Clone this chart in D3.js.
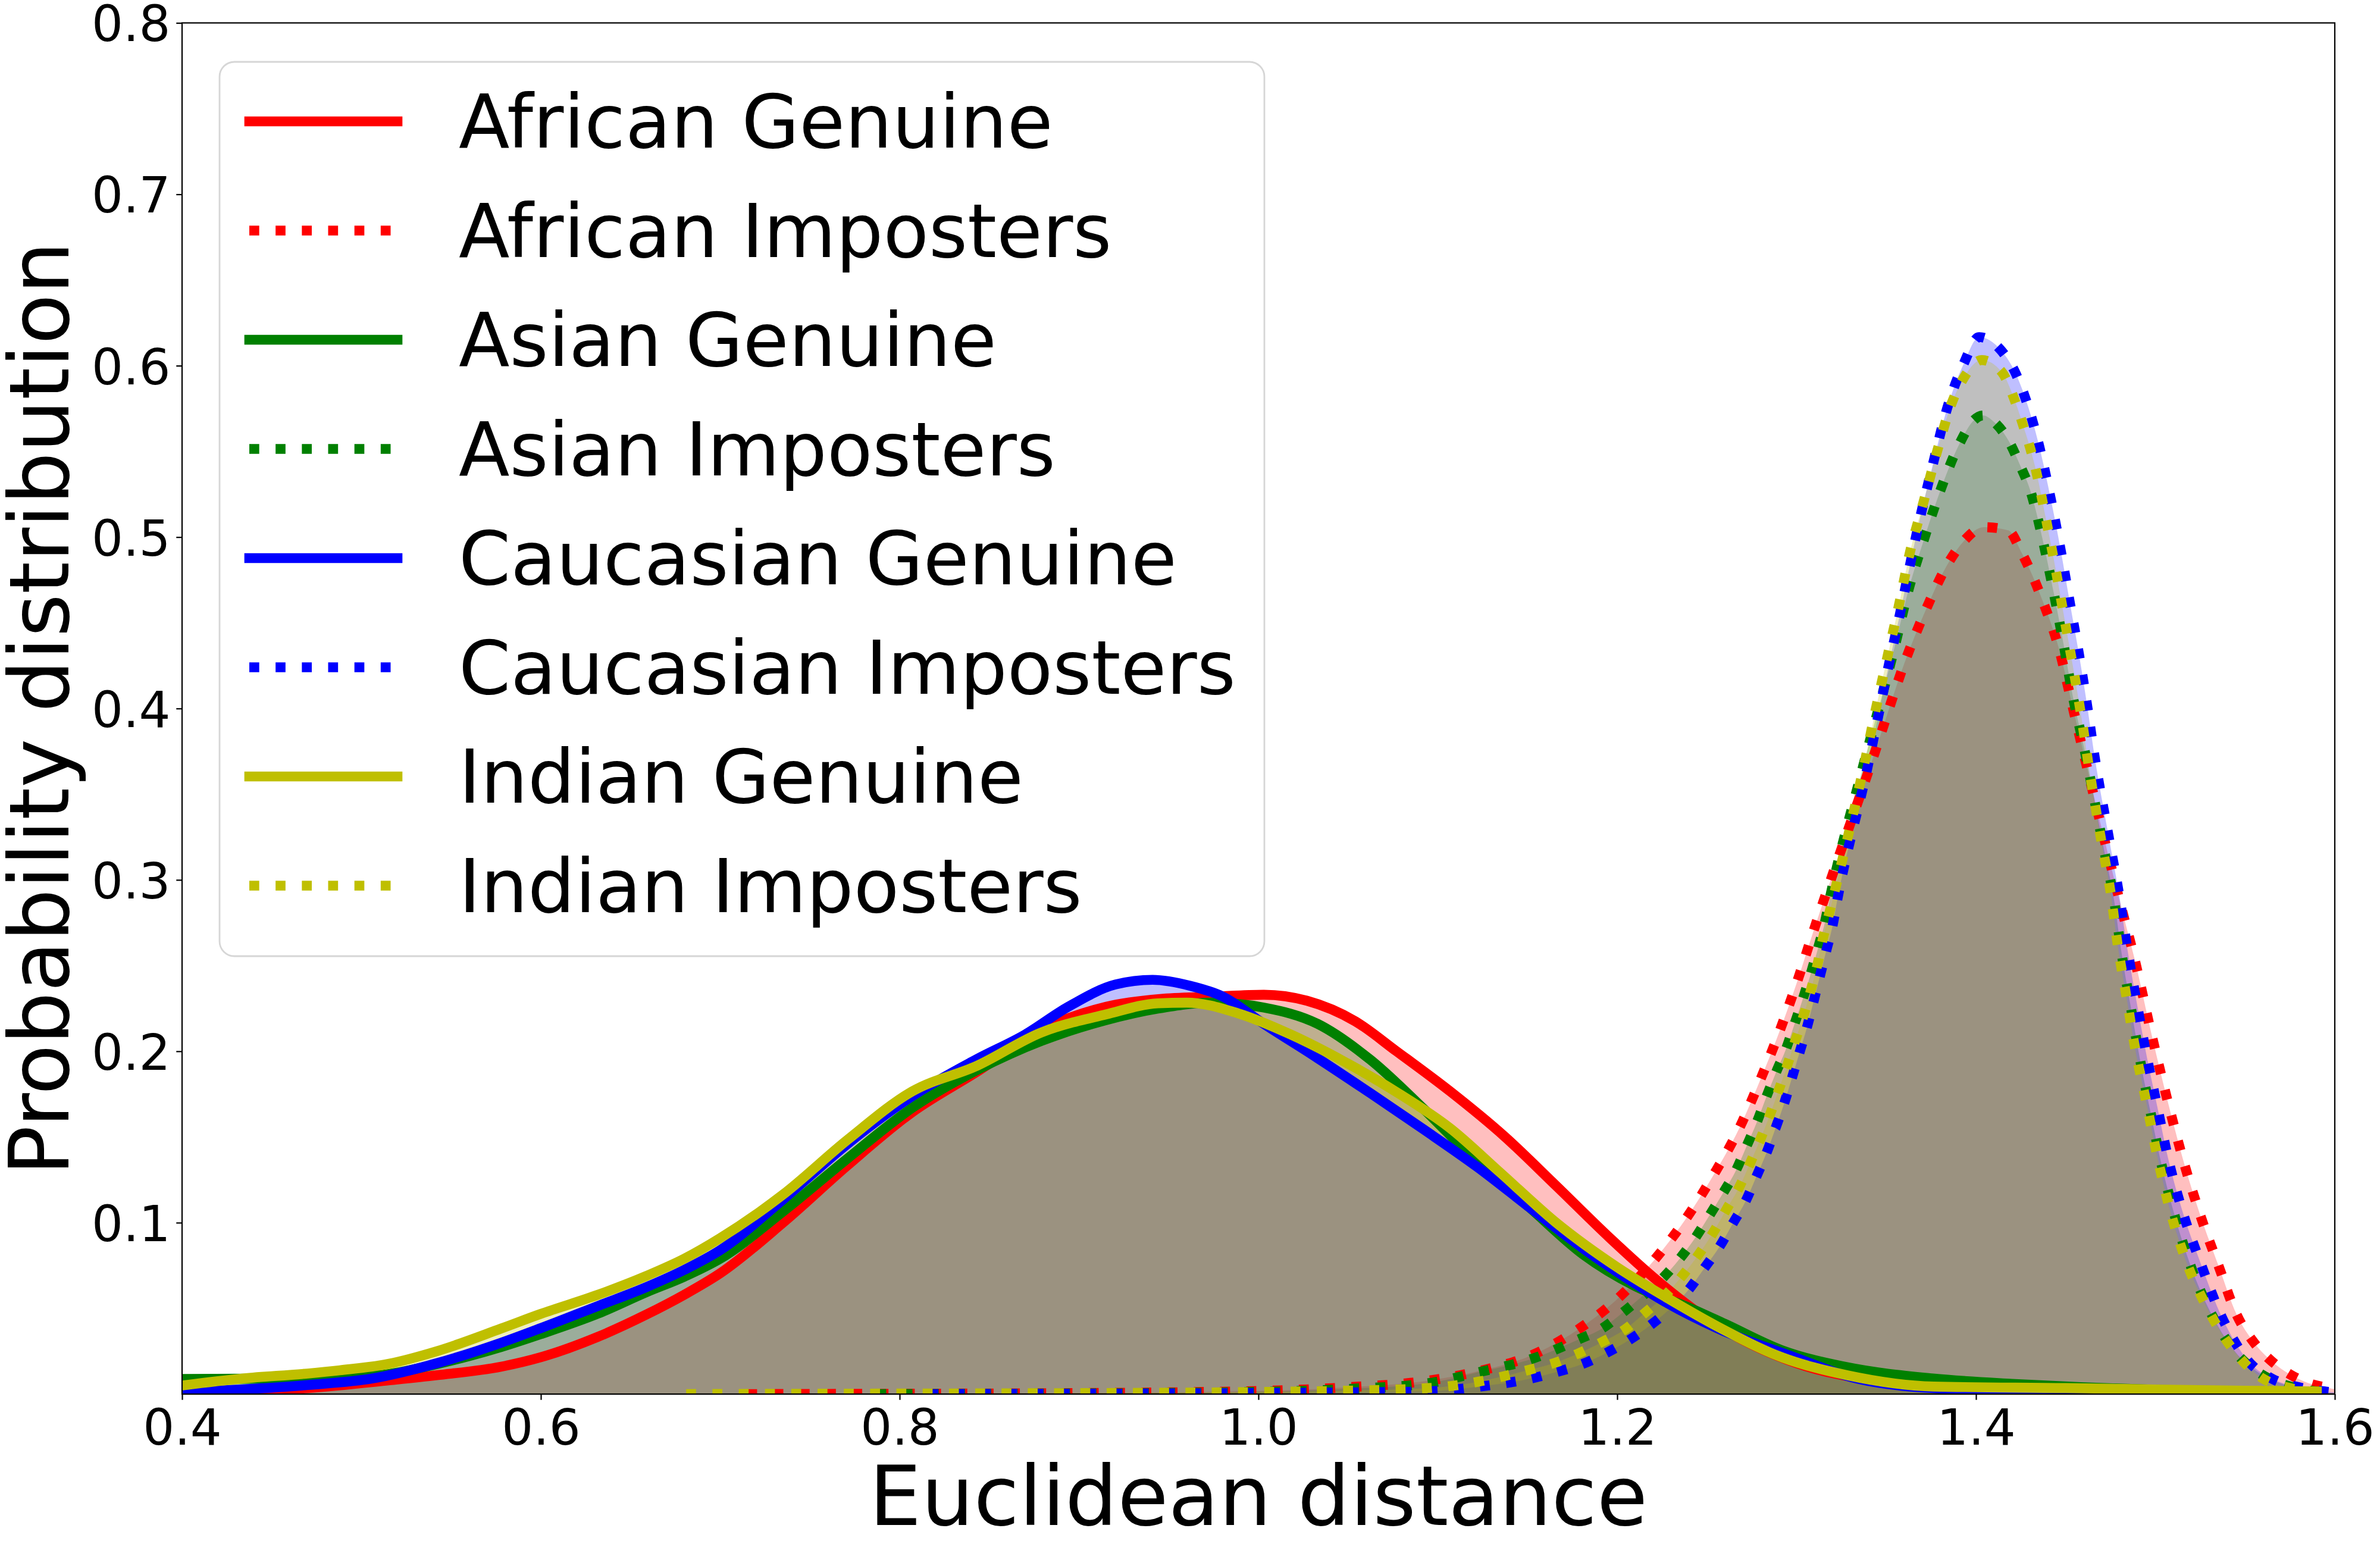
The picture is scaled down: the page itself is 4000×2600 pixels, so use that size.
<!DOCTYPE html>
<html><head><meta charset="utf-8">
<script src="https://cdnjs.cloudflare.com/ajax/libs/d3/7.8.5/d3.min.js"></script>
<style>
html,body{margin:0;padding:0;background:#fff;}
svg{display:block;font-family:"DejaVu Sans",sans-serif;}
</style></head><body>
<svg id="chart" width="4000" height="2600"></svg>
<script>
// ---------- data ----------
const seriesNames = ["African Genuine","African Imposters","Asian Genuine","Asian Imposters",
                     "Caucasian Genuine","Caucasian Imposters","Indian Genuine","Indian Imposters"];
const seriesColors = ["#ff0000","#ff0000","#008000","#008000","#0000ff","#0000ff","#bfbf00","#bfbf00"];
const seriesDotted = [false,true,false,true,false,true,false,true];
const xTicks = [0.4,0.6,0.8,1.0,1.2,1.4,1.6];
const yTicks = [0.1,0.2,0.3,0.4,0.5,0.6,0.7,0.8];

const africanGenuineX = [0.40,0.47,0.515,0.542,0.578,0.60,0.632,0.659,0.68,0.70,0.735,0.771,0.807,0.843,0.88,0.915,0.945,0.974,1.003,1.027,1.054,1.077,1.107,1.137,1.166,1.196,1.222,1.25,1.30,1.35,1.40,1.45,1.50,1.56];
const africanGenuineY = [0.0003,0.0035,0.0080,0.0110,0.0160,0.0215,0.0335,0.0465,0.0580,0.0705,0.1000,0.1335,0.1645,0.1880,0.2130,0.2260,0.2305,0.2318,0.2330,0.2295,0.2175,0.2000,0.1765,0.1505,0.1215,0.0910,0.0665,0.0440,0.0180,0.0070,0.0030,0.0015,0.0007,0.0003];

const africanImpX = [0.715,0.80,0.90,1.00,1.05,1.0945,1.1233,1.152,1.1772,1.2006,1.2203,1.2383,1.2536,1.268,1.2797,1.2904,1.3003,1.3093,1.3138,1.3426,1.3612,1.3722,1.3849,1.3933,1.4043,1.4179,1.4255,1.4373,1.4467,1.4534,1.4602,1.4808,1.4884,1.4979,1.5084,1.516,1.5245,1.5355,1.545,1.555,1.565,1.575,1.585,1.597,1.61];
const africanImpY = [0,0.0002,0.0006,0.0018,0.004,0.0078,0.0135,0.0225,0.037,0.056,0.0778,0.1023,0.1277,0.155,0.1832,0.2114,0.2406,0.2698,0.2839,0.3712,0.4296,0.458,0.4855,0.4978,0.5058,0.504,0.4908,0.4624,0.4332,0.4031,0.373,0.2848,0.2539,0.2097,0.1645,0.1347,0.106,0.074,0.047,0.030,0.019,0.0115,0.0065,0.0035,0.001];

const asianGenuineX = [0.40,0.436,0.47,0.51,0.542,0.578,0.60,0.632,0.659,0.68,0.70,0.735,0.771,0.807,0.843,0.879,0.9145,0.944,0.974,1.003,1.033,1.0625,1.092,1.12,1.151,1.181,1.21,1.24,1.26,1.292,1.328,1.376,1.42,1.46,1.50,1.56];
const asianGenuineY = [0.0088,0.0090,0.0092,0.011,0.0175,0.0275,0.0350,0.0470,0.0595,0.0685,0.0790,0.1065,0.1375,0.1670,0.1890,0.2060,0.2180,0.2249,0.2284,0.2255,0.2160,0.1950,0.1665,0.1375,0.1090,0.0815,0.0630,0.0505,0.0410,0.0255,0.0157,0.0091,0.006,0.004,0.0025,0.0012];

const asianImpX = [0.787,0.85,0.90,1.00,1.05,1.0945,1.1233,1.152,1.1781,1.1916,1.2033,1.214,1.2252,1.2347,1.2434,1.2514,1.259,1.2662,1.2721,1.2779,1.2833,1.2886,1.294,1.2989,1.3034,1.3079,1.312,1.3156,1.3187,1.337,1.3553,1.362,1.3705,1.3798,1.3908,1.3984,1.404,1.4094,1.4184,1.4247,1.4302,1.4373,1.4433,1.4488,1.4539,1.4602,1.4713,1.477,1.4812,1.4861,1.4913,1.497,1.5032,1.5108,1.5203,1.5321,1.545,1.56,1.575,1.59,1.60];
const asianImpY = [0,0.0002,0.0004,0.0013,0.003,0.0063,0.0129,0.0204,0.0317,0.0383,0.0477,0.0571,0.0675,0.0788,0.091,0.1042,0.1173,0.1305,0.1446,0.1588,0.1738,0.1879,0.2011,0.2161,0.2303,0.2453,0.2604,0.2745,0.2901,0.366,0.4385,0.4677,0.497,0.5262,0.5545,0.5678,0.571,0.5678,0.5558,0.5416,0.5274,0.4979,0.4677,0.4376,0.4075,0.3774,0.318,0.288,0.257,0.227,0.196,0.166,0.135,0.104,0.073,0.045,0.024,0.011,0.0045,0.0015,0.0005];

const caucasianGenuineX = [0.40,0.47,0.506,0.542,0.578,0.60,0.632,0.659,0.68,0.70,0.735,0.771,0.807,0.843,0.87,0.8937,0.9204,0.941,0.962,0.98,1.003,1.033,1.0625,1.092,1.122,1.151,1.181,1.21,1.228,1.256,1.30,1.33,1.376,1.45,1.50,1.56];
const caucasianGenuineY = [0.001,0.0053,0.0091,0.0180,0.030,0.0385,0.0515,0.0625,0.0725,0.0840,0.1135,0.1460,0.1738,0.1954,0.2098,0.2258,0.2390,0.2417,0.2382,0.2320,0.2160,0.1960,0.1755,0.1545,0.1325,0.1090,0.0850,0.0645,0.0530,0.0383,0.0210,0.0100,0.0035,0.0015,0.0008,0.0004];

const caucasianImpX = [0.816,0.90,1.00,1.05,1.0945,1.1233,1.152,1.1664,1.1808,1.1943,1.2069,1.2185,1.2293,1.2401,1.2487,1.2572,1.2644,1.2716,1.2775,1.2833,1.2883,1.2931,1.2973,1.3016,1.3057,1.3093,1.3129,1.3165,1.3201,1.3228,1.3392,1.3451,1.351,1.3573,1.3632,1.3693,1.3761,1.3832,1.3933,1.4017,1.414,1.4218,1.4272,1.4353,1.4416,1.4472,1.4522,1.4573,1.4619,1.4661,1.474,1.48,1.4845,1.4895,1.495,1.501,1.507,1.515,1.525,1.537,1.552,1.565,1.58,1.595,1.605];
const caucasianImpY = [0,0.0002,0.0006,0.001,0.0016,0.0044,0.0091,0.0129,0.0176,0.0242,0.0317,0.0402,0.0496,0.0613,0.0737,0.0863,0.0995,0.1126,0.1267,0.1409,0.1553,0.1697,0.1841,0.1992,0.2137,0.2284,0.2434,0.2585,0.2735,0.289,0.3641,0.3934,0.4235,0.4536,0.4837,0.5134,0.543,0.5726,0.6015,0.6167,0.6089,0.5962,0.582,0.5528,0.5227,0.4925,0.4624,0.4323,0.4022,0.3721,0.325,0.29,0.259,0.229,0.198,0.168,0.138,0.107,0.077,0.045,0.019,0.009,0.004,0.0015,0.0005];

const indianGenuineX = [0.40,0.434,0.47,0.488,0.515,0.542,0.578,0.60,0.632,0.659,0.68,0.70,0.735,0.771,0.807,0.843,0.879,0.915,0.944,0.96,0.9885,1.018,1.048,1.077,1.107,1.135,1.166,1.20,1.2293,1.2563,1.2922,1.3282,1.3764,1.45,1.50,1.55,1.59];
const indianGenuineY = [0.005,0.0091,0.012,0.0139,0.0176,0.025,0.0383,0.0468,0.058,0.069,0.079,0.091,0.1164,0.1484,0.1766,0.1915,0.211,0.2215,0.228,0.2284,0.2222,0.2098,0.1939,0.1762,0.155,0.129,0.100,0.074,0.0552,0.0392,0.0213,0.011,0.0044,0.0035,0.0027,0.002,0.0015];

const indianImpX = [0.681,0.75,0.85,0.95,1.00,1.05,1.0945,1.108,1.1224,1.1367,1.1511,1.1646,1.1781,1.1916,1.2045,1.2158,1.2272,1.2365,1.2455,1.2536,1.2608,1.268,1.2739,1.2797,1.2851,1.2901,1.2949,1.2994,1.304,1.3081,1.3117,1.3147,1.3183,1.3383,1.3443,1.3507,1.357,1.3629,1.3705,1.3781,1.3866,1.393,1.4032,1.4145,1.4208,1.4255,1.4336,1.4394,1.4449,1.45,1.4551,1.4598,1.4619,1.47,1.475,1.479,1.484,1.489,1.495,1.501,1.508,1.517,1.529,1.544,1.56,1.575,1.59,1.60];
const indianImpY = [0,0.0002,0.0004,0.0008,0.0012,0.002,0.0035,0.0048,0.0072,0.0104,0.0142,0.018,0.0236,0.0304,0.0379,0.0477,0.0581,0.0693,0.0816,0.0944,0.1076,0.1207,0.1343,0.1484,0.1629,0.1776,0.1922,0.2067,0.2212,0.2363,0.251,0.266,0.281,0.3703,0.4004,0.4305,0.4601,0.4899,0.5195,0.5492,0.5785,0.5926,0.6033,0.5962,0.582,0.5678,0.5382,0.5085,0.4784,0.4483,0.4181,0.388,0.373,0.322,0.293,0.262,0.231,0.200,0.170,0.139,0.108,0.078,0.050,0.025,0.009,0.0035,0.0012,0.0004];

// ---------- assemble ----------
const seriesX = [africanGenuineX, africanImpX, asianGenuineX, asianImpX, caucasianGenuineX, caucasianImpX, indianGenuineX, indianImpX];
const seriesY = [africanGenuineY, africanImpY, asianGenuineY, asianImpY, caucasianGenuineY, caucasianImpY, indianGenuineY, indianImpY];
const series = seriesNames.map((name, i) => ({
  name, color: seriesColors[i], dotted: seriesDotted[i],
  points: seriesX[i].map((xv, j) => [xv, seriesY[i][j]])
}));

// ---------- layout ----------
const PT = 200/72;            // px per point
const LW = 6 * PT;             // curve line width
const plotL = 306, plotR = 3924, plotT = 38.5, plotB = 2343;
const svg = d3.select("#chart");
const x = d3.scaleLinear().domain([0.4, 1.6]).range([plotL, plotR]);
const y = d3.scaleLinear().domain([0, 0.8]).range([plotB, plotT]);

svg.append("rect").attr("width", 4000).attr("height", 2600).attr("fill", "#fff");

svg.append("defs").append("clipPath").attr("id", "plotclip")
  .append("rect").attr("x", plotL).attr("y", plotT).attr("width", plotR - plotL).attr("height", plotB - plotT);

const plot = svg.append("g").attr("clip-path", "url(#plotclip)");

const area = d3.area().x(d => x(d[0])).y0(y(0)).y1(d => y(d[1])).curve(d3.curveMonotoneX);
const line = d3.line().x(d => x(d[0])).y(d => y(d[1])).curve(d3.curveMonotoneX);

// fills first (zorder 1), in plot order
series.forEach(s => {
  plot.append("path").attr("d", area(s.points))
    .attr("fill", s.color).attr("fill-opacity", 0.25).attr("stroke", "none");
});
// lines on top
series.forEach(s => {
  const p = plot.append("path").attr("d", line(s.points))
    .attr("fill", "none").attr("stroke", s.color).attr("stroke-width", LW)
    .attr("stroke-linejoin", "round");
  if (s.dotted) p.attr("stroke-dasharray", `${LW},${1.65 * LW}`).attr("stroke-linecap", "butt");
  else p.attr("stroke-linecap", "square");
});

// ---------- axes ----------
const tickLen = 3.5 * PT, tickPad = 3.5 * PT, tickFont = 30 * PT;
const fmt = d3.format(".1f");

const gx = svg.append("g").attr("transform", `translate(0,${plotB})`)
  .call(d3.axisBottom(x).tickValues(xTicks).tickFormat(fmt).tickSize(tickLen).tickPadding(tickPad));
gx.select(".domain").remove();
gx.selectAll(".tick line").attr("stroke", "#000").attr("stroke-width", 0.8 * PT);
gx.selectAll(".tick text").attr("font-size", tickFont).attr("font-family", "DejaVu Sans")
  .attr("fill", "#000").attr("y", 85).attr("dy", 0);

const gy = svg.append("g").attr("transform", `translate(${plotL},0)`)
  .call(d3.axisLeft(y).tickValues(yTicks).tickFormat(fmt).tickSize(tickLen).tickPadding(tickPad));
gy.select(".domain").remove();
gy.selectAll(".tick line").attr("stroke", "#000").attr("stroke-width", 0.8 * PT);
gy.selectAll(".tick text").attr("font-size", tickFont).attr("font-family", "DejaVu Sans")
  .attr("fill", "#000").attr("dy", 30.4);

// frame (spines)
svg.append("rect").attr("x", plotL).attr("y", plotT).attr("width", plotR - plotL).attr("height", plotB - plotT)
  .attr("fill", "none").attr("stroke", "#000").attr("stroke-width", 0.8 * PT);

// axis labels
const labelFont = 50 * PT;
svg.append("text").attr("x", (plotL + plotR) / 2).attr("y", 2563)
  .attr("text-anchor", "middle").attr("font-size", labelFont).attr("fill", "#000")
  .text("Euclidean distance");
svg.append("text").attr("transform", `translate(115,${(plotT + plotB) / 2}) rotate(-90)`)
  .attr("text-anchor", "middle").attr("font-size", labelFont).attr("fill", "#000")
  .text("Probability distribution");

// ---------- legend ----------
const legFont = 45 * PT;
const leg = svg.append("g");
leg.append("rect").attr("x", 369).attr("y", 104).attr("width", 1756).attr("height", 1503)
  .attr("rx", 25).attr("ry", 25)
  .attr("fill", "#fff").attr("fill-opacity", 0.8)
  .attr("stroke", "#d6d6d6").attr("stroke-width", 1.0 * PT);
series.forEach((s, i) => {
  const cy = 204 + i * 183.5;
  const l = leg.append("line").attr("x1", 419).attr("x2", 668).attr("y1", cy).attr("y2", cy)
    .attr("stroke", s.color).attr("stroke-width", LW);
  if (s.dotted) l.attr("stroke-dasharray", `${LW},${1.65 * LW}`).attr("stroke-linecap", "butt");
  else l.attr("stroke-linecap", "square");
  leg.append("text").attr("x", 771).attr("y", cy + 44).attr("font-size", legFont).attr("fill", "#000")
    .text(s.name);
});
</script>
</body></html>
